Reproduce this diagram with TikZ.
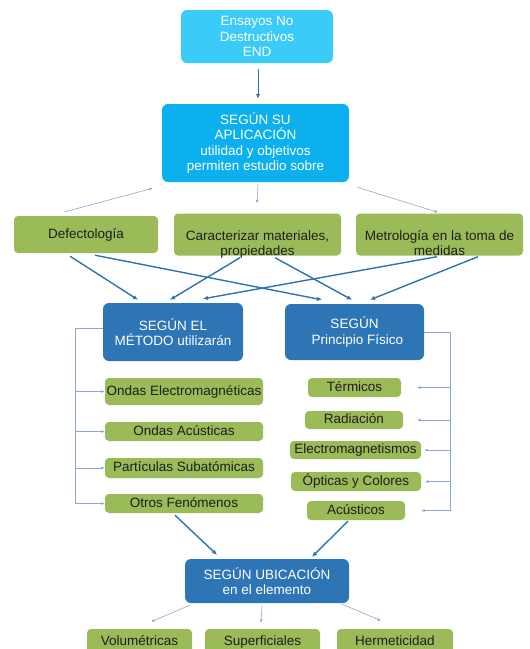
\documentclass[tikz,border=0pt]{standalone}
\usepackage{fontspec}
\setmainfont{Liberation Sans}
\usetikzlibrary{calc,arrows.meta}
\definecolor{endcyan}{HTML}{3BCBF8}
\definecolor{aplcyan}{HTML}{0DB0EE}
\definecolor{metblue}{HTML}{2E75B6}
\definecolor{olive}{HTML}{9BBB59}
\definecolor{arrblue}{HTML}{2E72B0}
\definecolor{faintblue}{HTML}{8EA8CC}
\definecolor{textdark}{HTML}{1E1E1E}
\tikzset{
	box/.style 2 args={rounded corners=6pt, inner sep=0pt, align=center,
		minimum width=#1pt, minimum height=#2pt, font=\fontsize{13.5}{15.5}\selectfont},
	cyanbox/.style={fill=#1, text=white},
	bluebox/.style={fill=metblue, text=white},
	greenbox/.style={fill=olive, text=textdark, rounded corners=4pt},
	oneline/.style={text height=10pt, text depth=3pt},
	lowtext/.style={text height=42pt, text depth=-6pt},
	thickarr/.style={draw=arrblue, line width=1.4pt, -{Latex[length=5pt,width=4.5pt]}},
	thinarr/.style={draw=faintblue, line width=0.6pt, -{Latex[length=3.5pt,width=3pt]}},
	bracket/.style={draw=faintblue, line width=0.8pt},
}

\begin{document}
\begin{tikzpicture}[x=1pt, y=-1pt]
	%%%%% FRAME %%%%%
	\useasboundingbox (0, 0) rectangle (530, 649);
	\clip (0, 0) rectangle (530, 649);
	
	%%%%% TOP %%%%%
	\node[box={152}{53}, cyanbox=endcyan] (end) at (257, 36.5) {Ensayos No\\Destructivos\\END};
	\node[box={187}{78}, cyanbox=aplcyan] (aplic) at (255.5, 143) {SEGÚN SU\\APLICACIÓN\\utilidad y objetivos\\permiten estudio sobre};
	\draw[thickarr, line width=1pt] ($(end.south)+(1,6)$) -- ($(aplic.north)+(2.5,-5)$);
	
	%%%%% ESTUDIO %%%%%
	\node[box={144}{37}, greenbox, oneline] (defect) at (86, 234.5) {Defectología};
	\node[box={167}{37}, greenbox, lowtext] (caract) at (257.5, 234.5) {Caracterizar materiales,\\propiedades};
	\node[box={167}{37}, greenbox, lowtext] (metro) at (439.5, 234.5) {Metrología en la toma de\\medidas};
	
	\draw[thinarr] ($(defect.north)+(-21,-4)$) -- ($(aplic.south west)+(-9,6)$);
	\draw[thinarr] ($(aplic.south)+(2.5,2)$) -- ($(caract.north)+(-0.5,-10)$);
	\draw[thinarr] ($(aplic.south east)+(8,5)$) -- ($(metro.north)+(-1.5,-1)$);
	
	%%%%% METODO / PRINCIPIO %%%%%
	\node[box={140}{58}, bluebox] (metodo) at (173, 332) {SEGÚN EL\\MÉTODO utilizarán};
	\node[box={139}{56}, bluebox] (princ) at (354.5, 332) {SEGÚN\\\hspace*{6pt}Principio Físico};
	
	\draw[thickarr] ($(defect.south)+(-16,3)$) -- ($(metodo.north)+(-35,-3)$);
	\draw[thickarr] ($(defect.south)+(9,2)$) -- ($(princ.north)+(-32.5,-4)$);
	\draw[thickarr] ($(caract.south)+(-17.5,2)$) -- ($(metodo.north)+(-3,-3)$);
	\draw[thickarr] ($(caract.south)+(17.5,2)$) -- ($(princ.north)+(-2.5,-4)$);
	\draw[thickarr] ($(metro.south)+(-2.5,1)$) -- ($(metodo.north)+(30,-4)$);
	\draw[thickarr] ($(metro.south)+(38.5,1)$) -- ($(princ.north)+(15.5,-4)$);
	
	%%%%% LISTA METODO %%%%%
	\node[box={158}{27}, greenbox, oneline] (ondasem) at (184, 391.5) {Ondas Electromagnéticas};
	\node[box={158}{19}, greenbox, oneline] (ondasac) at (184, 431.5) {Ondas Acústicas};
	\node[box={158}{20}, greenbox, oneline] (partic) at (184, 468) {Partículas Subatómicas};
	\node[box={158}{19}, greenbox, oneline] (otros) at (184, 503.5) {Otros Fenómenos};
	
	\coordinate (brL) at ($(metodo.west)+(-27,-4)$);
	\draw[bracket] ($(metodo.west)+(0,-4)$) -- (brL) -- (brL |- otros.west);
	\foreach \n in {ondasem, ondasac, partic, otros}
		\draw[thinarr] (brL |- \n.west) -- (\n.west);
	
	%%%%% LISTA PRINCIPIO %%%%%
	\node[box={93}{19}, greenbox, oneline] (term) at (354.5, 387.5) {Térmicos};
	\node[box={98}{18}, greenbox, oneline] (radia) at (354, 420) {Radiación};
	\node[box={131}{18}, greenbox, oneline] (electro) at (355.5, 450) {Electromagnetismos};
	\node[box={130}{19}, greenbox, oneline] (optic) at (356, 481.5) {Ópticas y Colores};
	\node[box={98}{19}, greenbox, oneline] (acust) at (356, 510.5) {Acústicos};
	
	\coordinate (brR) at ($(princ.east)+(26,0)$);
	\draw[bracket] (princ.east) -- (brR) -- (brR |- acust.east);
	\foreach \n/\g in {term/16, radia/14, electro/3, optic/4, acust/16}
		\draw[thinarr] (brR |- \n.east) -- ($(\n.east)+(\g,0)$);
	
	%%%%% UBICACION %%%%%
	\node[box={164}{44}, bluebox] (ubic) at (267, 581) {SEGÚN UBICACIÓN\\en el elemento};
	
	\draw[thickarr] ($(otros.south)+(-9,2)$) -- ($(ubic.north)+(-50,-4)$);
	\draw[thickarr] ($(acust.south)+(-8,1)$) -- ($(ubic.north)+(45,-2)$);
	
	\node[box={105}{25}, greenbox, oneline] (volum) at (139.5, 641.5) {Volumétricas};
	\node[box={115}{25}, greenbox, oneline] (superf) at (262.5, 641.5) {Superficiales};
	\node[box={116}{25}, greenbox, oneline] (hermet) at (395, 641.5) {Hermeticidad};
	
	\draw[thinarr] ($(ubic.south west)+(5,2)$) -- ($(volum.north)+(11.5,-7)$);
	\draw[thinarr] ($(ubic.south)+(-5,3)$) -- ($(superf.north)+(-1.5,-6)$);
	\draw[thinarr] ($(ubic.south east)+(-7,1)$) -- ($(hermet.north)+(-14,-8)$);
\end{tikzpicture}
\end{document}
